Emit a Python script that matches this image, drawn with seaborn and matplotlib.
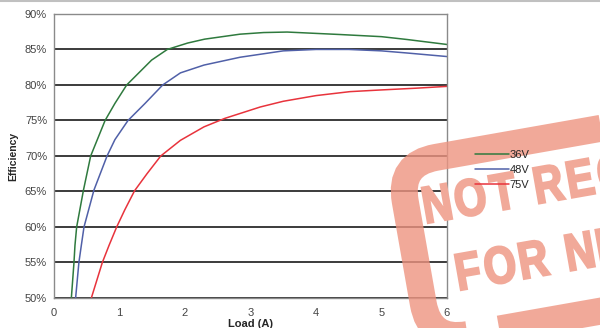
import numpy as np
import pandas as pd
import matplotlib.pyplot as plt
import seaborn as sns
from matplotlib.patches import FancyBboxPatch, PathPatch
from matplotlib.lines import Line2D
from matplotlib.transforms import Affine2D
from matplotlib.textpath import TextPath
from matplotlib.font_manager import FontProperties

# Efficiency curves
load_36v = [0.265, 0.305, 0.32, 0.346, 0.45, 0.56, 0.78, 0.93, 1.11, 1.49, 1.73, 2.04, 2.30, 2.84, 3.20, 3.56, 4.37, 5.00, 5.39, 6.00]
eff_36v = [50.0, 55.0, 57.4, 60.0, 65.2, 70.0, 75.0, 77.4, 80.0, 83.5, 85.0, 85.9, 86.45, 87.15, 87.38, 87.45, 87.1, 86.8, 86.4, 85.7]

load_48v = [0.33, 0.38, 0.417, 0.458, 0.61, 0.81, 0.93, 1.13, 1.39, 1.66, 1.93, 2.29, 2.84, 3.50, 4.00, 4.50, 5.00, 5.39, 6.00]
eff_48v = [50.0, 55.0, 57.4, 60.0, 65.2, 70.0, 72.3, 75.0, 77.4, 80.0, 81.7, 82.8, 83.9, 84.8, 85.0, 85.0, 84.8, 84.5, 84.0]

load_75v = [0.57, 0.738, 0.84, 0.957, 1.08, 1.23, 1.42, 1.63, 1.93, 2.29, 2.61, 3.15, 3.50, 4.00, 4.52, 5.00, 5.54, 6.00]
eff_75v = [50.0, 55.0, 57.4, 60.0, 62.4, 65.1, 67.5, 70.0, 72.2, 74.1, 75.3, 76.9, 77.7, 78.5, 79.06, 79.3, 79.55, 79.8]

series = ["36V", "48V", "75V"]
colors = ["#2f7a3e", "#5060a8", "#e8333c"]
y_ticks = [50, 55, 60, 65, 70, 75, 80, 85, 90]
x_ticks = [0, 1, 2, 3, 4, 5, 6]

frame = pd.concat([
    pd.DataFrame({"load": load_36v, "eff": eff_36v, "vin": "36V"}),
    pd.DataFrame({"load": load_48v, "eff": eff_48v, "vin": "48V"}),
    pd.DataFrame({"load": load_75v, "eff": eff_75v, "vin": "75V"}),
])

sns.set_style("white")
plt.rcParams["font.family"] = ["Liberation Sans", "DejaVu Sans"]

fig = plt.figure(figsize=(6, 3.28), dpi=100)
ax = fig.add_axes([0.09, 0.0915, 0.655, 0.866])

sns.lineplot(data=frame, x="load", y="eff", hue="vin", hue_order=series,
             palette=colors, linewidth=1.1, sort=True, ax=ax)

ax.set_xlim(0, 6)
ax.set_ylim(50, 90)
ax.set_xticks(x_ticks)
ax.set_yticks(y_ticks)
ax.set_yticklabels([f"{v}%" for v in y_ticks])
for v in y_ticks:
    ax.axhline(v, color="#1a1a1a", linewidth=1.2, zorder=0)

for s in ax.spines.values():
    s.set_color("#8a8a8a")
    s.set_linewidth(1.0)
ax.tick_params(axis="both", direction="out", length=3, width=0.8,
               color="#8a8a8a", labelsize=8, labelcolor="#444444", pad=2)
ax.tick_params(axis="x", pad=4)

ax.set_xlabel("Load (A)", fontsize=8, fontweight="bold", labelpad=1)
ax.set_ylabel("Efficiency", fontsize=7.5, fontweight="bold", labelpad=5)

handles, labels = ax.get_legend_handles_labels()
ax.get_legend().remove()
leg = fig.legend(handles, labels, loc="center left", bbox_to_anchor=(0.792, 0.482),
                 frameon=False, fontsize=8, handlelength=3.0, handletextpad=0.1,
                 labelspacing=0.45, borderpad=0, borderaxespad=0)
leg.set_zorder(20)

# thin grey rule at the very top of the page
fig.add_artist(Line2D([0, 1], [0.996, 0.996], color="#c0c0c0", linewidth=1.5,
                      transform=fig.transFigure))

# "not recommended" stamp overlay, drawn in pixel space
over = fig.add_axes([0, 0, 1, 1], zorder=10)
over.set_xlim(0, 600)
over.set_ylim(0, 328)
over.axis("off")
stamp_col = "#ee9480"
rot = Affine2D().rotate_deg_around(383, 175, 10) + over.transData
box = FancyBboxPatch((396.5, -18.5), 400, 180,
                     boxstyle="round,pad=0,rounding_size=38",
                     fill=False, edgecolor=stamp_col, linewidth=19.4,
                     alpha=0.8, transform=rot)
over.add_patch(box)

# heavy narrow lettering, set letter by letter so it keeps open spacing
stamp_fp = FontProperties(family="Liberation Sans", weight="bold")
letter_col = "#f1a999"


def stamp_line(txt, x0, y0, size=52, squeeze=0.8, gap=7, space=14):
    cursor = 0.0
    for ch in txt:
        if ch == " ":
            cursor += space
            continue
        path = TextPath((0, 0), ch, size=size, prop=stamp_fp)
        ext = path.get_extents()
        tr = (Affine2D().translate(-ext.x0, 0).scale(squeeze, 1)
              .translate(cursor, 0).rotate_deg(10).translate(x0, y0)
              + over.transData)
        over.add_patch(PathPatch(path, facecolor=letter_col, edgecolor=letter_col,
                                 linewidth=1.6, joinstyle="miter", transform=tr))
        cursor += ext.width * squeeze + gap


stamp_line("NOT RECOMMENDED", 428, 105)
stamp_line("FOR NEW DESIGNS", 461, 38)

fig.savefig("out.png", dpi=100)
